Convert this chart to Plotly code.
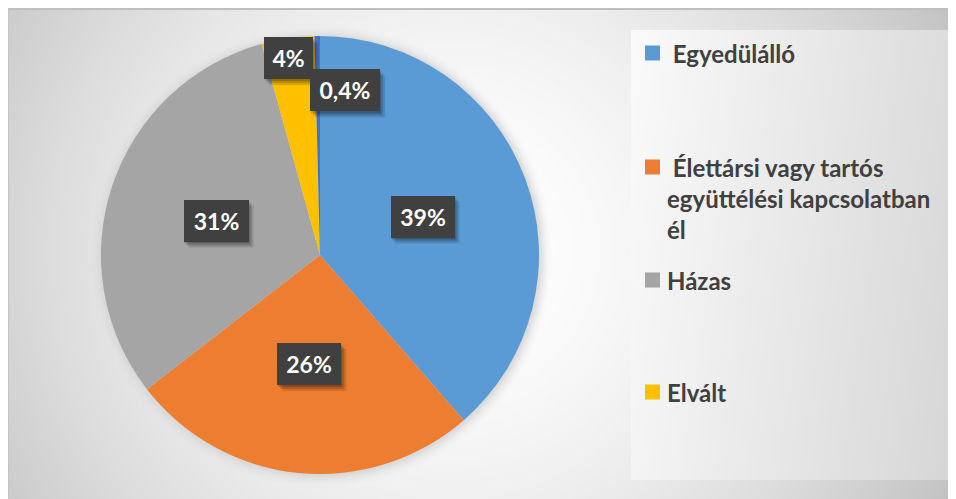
import numpy as np
import plotly.graph_objects as go

# ---------------- data ----------------
categories = ["Egyedülálló",
              "Élettársi vagy tartós együttélési kapcsolatban él",
              "Házas", "Elvált", "Özvegy"]
values = [38.6, 25.9, 31.2, 3.9, 0.4]
value_labels = ["39%", "26%", "31%", "4%", "0,4%"]
legend_lines = [[" Egyedülálló"],
                [" Élettársi vagy tartós", "együttélési kapcsolatban", "él"],
                ["Házas"],
                ["Elvált"]]
colors = ["#5B9BD5", "#ED7D31", "#A5A5A5", "#FFC000", "#4472C4"]

# ---------------- style / geometry (page pixel coordinates) ----------------
W, H = 956, 499
OFF = 8  # page body margin
CX, CY, R = 320, 255, 219
label_r_frac = [0.5, 0.5, 0.5, 0.91, 0.76]
label_dang = [0, 0, 0, -0.5, 9.4]
label_box_w = [64, 64, 65, 49, 70]
label_box_h = 42
legend_y = [53, 167, 280, 392]
legend_line_gap = 31
FONT = "Lato"

fig = go.Figure()

# background: chart area radial gradient + soft glow around pie
step = 3
xs = np.arange(OFF + step / 2, W + OFF + step, step)
ys = np.arange(OFF + step / 2, H + OFF + step, step)
X, Y = np.meshgrid(xs, ys)
d = np.hypot(X - 450, Y - 250)
bg = 255 - 60 * (d / 551) ** 1.7
bg = np.clip(bg, 190, 255)
rr = np.hypot(X - CX, Y - CY)
t = (rr - R) / 14.0
alpha = np.where(t < 0, 0.85, np.where(t < 1, 0.85 * (1 - np.clip(t, 0, 1)) ** 2, 0))
bg = bg * (1 - alpha) + 212 * alpha
fig.add_trace(go.Heatmap(x=xs, y=ys, z=np.round(bg).astype(int), zmin=0, zmax=255,
                         colorscale=[[0, "black"], [1, "white"]], showscale=False,
                         zsmooth="best", hoverinfo="skip"))

# legend box gradient
xs2 = np.arange(631 + step / 2, 952, step)
ys2 = np.arange(30 + step / 2, 481, step)
X2, Y2 = np.meshgrid(xs2, ys2)
lg = 250 - 30 * ((X2 - 631) / 321) - 6 * ((Y2 - 30) / 451)
fig.add_trace(go.Heatmap(x=xs2, y=ys2, z=np.round(lg).astype(int), zmin=0, zmax=255,
                         colorscale=[[0, "black"], [1, "white"]], showscale=False,
                         zsmooth="best", hoverinfo="skip"))

# pie
fig.add_trace(go.Pie(
    values=values, labels=categories, sort=False, direction="clockwise", rotation=0,
    marker=dict(colors=colors, line=dict(width=0)),
    textinfo="none", showlegend=False, hoverinfo="label+percent",
    domain=dict(x=[(CX - R - OFF) / W, (CX + R - OFF) / W],
                y=[1 - (CY + R - OFF) / H, 1 - (CY - R - OFF) / H]),
))

annotations = []
shapes = []

# data labels (dark boxes) placed from slice mid angles
total = sum(values)
cum = np.cumsum(values)
for i, (v, lab) in enumerate(zip(values, value_labels)):
    mid = (cum[i] - v / 2) / total * 360 + label_dang[i]
    r = R * label_r_frac[i]
    px = CX + r * np.sin(np.radians(mid))
    py = CY - r * np.cos(np.radians(mid))
    bw, bh = label_box_w[i], label_box_h
    for (ox, oy), a in [((5, 6), 0.12), ((3, 4), 0.16), ((1, 2), 0.2)]:
        shapes.append(dict(type="rect", xref="x", yref="y", layer="above",
                           x0=px - bw / 2 + ox, x1=px + bw / 2 + ox,
                           y0=py - bh / 2 + oy, y1=py + bh / 2 + oy,
                           fillcolor=f"rgba(0,0,0,{a})", line=dict(width=0)))
    annotations.append(dict(
        x=px, y=py, xref="x", yref="y", text=lab, showarrow=False,
        width=bw, height=bh, borderpad=0, borderwidth=0, bgcolor="#404040",
        align="center", valign="middle",
        font=dict(family=FONT, size=23, color="white", weight="bold")))

# legend (4 entries shown, as in the original)
for i, lines in enumerate(legend_lines):
    yc = legend_y[i]
    shapes.append(dict(type="rect", xref="x", yref="y", x0=645, x1=660,
                       y0=yc - 7.5, y1=yc + 7.5, fillcolor=colors[i], line=dict(width=0)))
    for j, ln in enumerate(lines):
        annotations.append(dict(
            x=665, y=yc + j * legend_line_gap, xref="x", yref="y", text=ln, showarrow=False,
            xanchor="left", yanchor="middle", align="left",
            font=dict(family=FONT, size=24, color="#404040", weight="bold")))

# chart border lines
shapes.append(dict(type="line", xref="x", yref="y", x0=OFF, x1=W + OFF, y0=OFF + 1, y1=OFF + 1,
                   line=dict(color="#bfbfbf", width=2)))
shapes.append(dict(type="line", xref="x", yref="y", x0=OFF + 0.5, x1=OFF + 0.5, y0=OFF, y1=H + OFF,
                   line=dict(color="#c4c4c4", width=1)))

fig.update_layout(
    width=W, height=H, margin=dict(l=0, r=0, t=0, b=0),
    paper_bgcolor="white", plot_bgcolor="white",
    xaxis=dict(range=[OFF, W + OFF], visible=False, fixedrange=True),
    yaxis=dict(range=[H + OFF, OFF], visible=False, fixedrange=True),
    annotations=annotations, shapes=shapes,
)

fig.write_html("out.html")
